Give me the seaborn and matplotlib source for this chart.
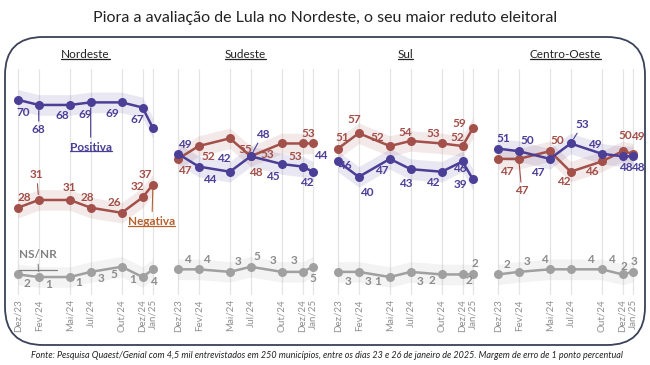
import pandas as pd
import matplotlib.pyplot as plt
import seaborn as sns
from matplotlib.patches import FancyBboxPatch
from matplotlib.lines import Line2D
from matplotlib.transforms import IdentityTransform

# Pesquisa Quaest/Genial - avaliação do governo Lula por região
meses = ['Dez/23', 'Fev/24', 'Mai/24', 'Jul/24', 'Out/24', 'Dez/24', 'Jan/25']
regioes = ['Nordeste', 'Sudeste', 'Sul', 'Centro-Oeste']
series = ['NS/NR', 'Negativa', 'Positiva']

nordeste_positiva = [70, 68, 68, 69, 69, 67, 59]
nordeste_negativa = [28, 31, 31, 28, 26, 32, 37]
nordeste_nsnr = [2, 1, 1, 3, 5, 1, 4]

sudeste_positiva = [49, 44, 42, 48, 45, 44, 42]
sudeste_negativa = [47, 52, 55, 48, 53, 53, 53]
sudeste_nsnr = [4, 4, 3, 5, 3, 3, 5]

sul_positiva = [46, 40, 47, 43, 42, 46, 39]
sul_negativa = [51, 57, 52, 54, 53, 52, 59]
sul_nsnr = [3, 3, 1, 3, 2, 2, 2]

co_positiva = [51, 50, 47, 53, 49, 48, 48]
co_negativa = [47, 47, 50, 42, 46, 50, 49]
co_nsnr = [2, 3, 4, 4, 4, 2, 3]

titulo = 'Piora a avaliação de Lula no Nordeste, o seu maior reduto eleitoral'
fonte = ('Fonte: Pesquisa Quaest/Genial com 4,5 mil entrevistados em 250 municípios, '
         'entre os dias 23 e 26 de janeiro de 2025. Margem de erro de 1 ponto percentual')

# meses transformados em posição no eixo (meses desde Dez/23)
NUM_MES = {'Jan': 1, 'Fev': 2, 'Mai': 5, 'Jul': 7, 'Out': 10, 'Dez': 12}
idx = [(2000 + int(m[4:])) * 12 + NUM_MES[m[:3]] for m in meses]
x_mes = [i - idx[0] for i in idx]

valores = {
    'Nordeste': {'Positiva': nordeste_positiva, 'Negativa': nordeste_negativa, 'NS/NR': nordeste_nsnr},
    'Sudeste': {'Positiva': sudeste_positiva, 'Negativa': sudeste_negativa, 'NS/NR': sudeste_nsnr},
    'Sul': {'Positiva': sul_positiva, 'Negativa': sul_negativa, 'NS/NR': sul_nsnr},
    'Centro-Oeste': {'Positiva': co_positiva, 'Negativa': co_negativa, 'NS/NR': co_nsnr},
}
linhas = []
for r in regioes:
    for s in series:
        for m, x, v in zip(meses, x_mes, valores[r][s]):
            linhas.append({'regiao': r, 'serie': s, 'mes': m, 'x': x, 'valor': v})
df = pd.DataFrame(linhas)

CORES = {'Positiva': '#4b3e97', 'Negativa': '#a3504a', 'NS/NR': '#a0a0a0'}
COR_ROTULO = {'Positiva': '#4b3e97', 'Negativa': '#a24f48', 'NS/NR': '#8c8c8c'}

# deslocamento dos rótulos (px: direita, baixo); True = com linha de ligação
DESLOC = {
    ('Nordeste', 'Positiva'): [(5, 13), (0, 25, True), (-8, 11), (-5, 12), (-9, 11), (-5, 12), None],
    ('Nordeste', 'Negativa'): [(6, -10), (-2, -25, True), (0, -12), (-3, -10), (-7, -10), (-5, -11), (-8, -10)],
    ('Nordeste', 'NS/NR'): [(9, 9), (10, 7), (9, 5), (10, 7), (-8, 8), (-10, 2), (0, 12)],
    ('Sudeste', 'Positiva'): [(7, -9), (11, 13), (-6, -13), (12, -22, True), (-9, 12), (18, -11), (-6, 11)],
    ('Sudeste', 'Negativa'): [(7, 12), (10, 10), (15, 11), (5, 16), (-15, 11), (-7, 13), (-5, -10)],
    ('Sudeste', 'NS/NR'): [(9, -10), (8, -10), (8, -10), (6, -10), (-9, -11), (-9, -11), (0, 12)],
    ('Sul', 'Positiva'): [(7, 4), (8, 16), (-8, 12), (-5, 14), (-9, 11), (-3, 7), (-12, 5)],
    ('Sul', 'Negativa'): [(4, -11), (-4, -14), (-13, -9), (-5, -8), (-9, -10), (-5, -9), (-14, -5)],
    ('Sul', 'NS/NR'): [(10, 10), (9, 10), (-12, 4), (9, 10), (-10, 6), (6, 6), (2, -11)],
    ('Centro-Oeste', 'Positiva'): [(5, -10), (9, -11), (-12, 14), (12, -19, True), (-7, -9), (3, 11), (5, 11)],
    ('Centro-Oeste', 'Negativa'): [(9, 13), (3, 32, True), (7, -11), (-7, 10), (-10, 10), (3, -16), (5, -17)],
    ('Centro-Oeste', 'NS/NR'): [(9, -10), (8, -10), (-5, -10), (20, -10), (10, -10), (1, -8), (1, -10)],
}

sns.set_theme(style='white')
plt.rcParams['font.family'] = ['Lato', 'DejaVu Sans']

W, H = 650, 365
fig = plt.figure(figsize=(W / 100, H / 100), dpi=100)

para_sublinhar = []

for i, regiao in enumerate(regioes):
    left = 7.6 + 160 * i
    ax = fig.add_axes([left / W, (H - 295) / H, 155.7 / W, 226 / H])
    ax.set_facecolor('none')
    sub = df[df['regiao'] == regiao]

    for s in series:
        d = sub[sub['serie'] == s]
        ax.fill_between(d['x'], d['valor'] - 4, d['valor'] + 4,
                        color=CORES[s], alpha=0.12, lw=0, zorder=1)

    sns.lineplot(data=sub, x='x', y='valor', hue='serie', hue_order=series,
                 palette=CORES, marker='o', markersize=6.5, markeredgewidth=0,
                 linewidth=1.8, legend=False, ax=ax, zorder=3)

    for s in series:
        d = sub[sub['serie'] == s]
        for (x, v), off in zip(zip(d['x'], d['valor']), DESLOC[(regiao, s)]):
            if off is None:
                continue
            seta = None
            if len(off) == 3:
                seta = dict(arrowstyle='-', color=CORES[s], lw=0.8, shrinkA=0, shrinkB=4)
            ax.annotate(str(v), xy=(x, v), xytext=(off[0], -off[1]),
                        textcoords='offset pixels', ha='center', va='center',
                        fontsize=8.5, fontweight='bold', color=COR_ROTULO[s],
                        arrowprops=seta, zorder=5)

    ax.set_xlim(-1, 14)
    ax.set_ylim(-6, 82)
    ax.set_xticks(x_mes)
    ax.set_xticklabels(meses, rotation=90, fontsize=7, color='#8f8f8f')
    ax.set_yticks([])
    ax.tick_params(axis='x', length=0, pad=3)
    ax.set_xlabel('')
    ax.set_ylabel('')
    ax.grid(axis='x', color='#e4e4e4', lw=0.9)
    ax.set_axisbelow(True)
    sns.despine(ax=ax, left=True, bottom=True)

    t = fig.text((left + 155.7 / 2) / W, 1 - 55 / H, regiao, ha='center', va='center',
                 fontsize=8.5, color='#222222')
    para_sublinhar.append((t, '#222222'))

    if regiao == 'Nordeste':
        nomes = [('Positiva', 3, (0, 45), '#4b3e97'),
                 ('Negativa', 6, (-1, 37), '#b5612e'),
                 ('NS/NR', 1, (-1, -23), '#808080')]
        for nome, k, (dx, dy), cor in nomes:
            d = sub[sub['serie'] == nome]
            xv, vv = d['x'].iloc[k], d['valor'].iloc[k]
            a = ax.annotate(nome, xy=(xv, vv), xytext=(dx, -dy), textcoords='offset pixels',
                            ha='center', va='center', fontsize=8.5, fontweight='bold',
                            color=cor, zorder=6,
                            arrowprops=dict(arrowstyle='-', color=cor, lw=0.8,
                                            shrinkA=1, shrinkB=4))
            para_sublinhar.append((a, cor))

fig.text(0.5, 1 - 18 / H, titulo, ha='center', va='center', fontsize=11.5, color='#222222')
fig.text(0.503, 1 - 356 / H, fonte, ha='center', va='center', fontsize=6.5,
         style='italic', color='#222222')

# moldura arredondada
moldura = FancyBboxPatch((5, H - 345), 640, 308, boxstyle='round,pad=0,rounding_size=38',
                         transform=IdentityTransform(), fill=False, ec='#3a4259', lw=1.3)
fig.add_artist(moldura)

# sublinhados
fig.canvas.draw()
r = fig.canvas.get_renderer()
for t, cor in para_sublinhar:
    bb = t.get_window_extent(r)
    y = bb.y0 + 1.5
    fig.add_artist(Line2D([bb.x0, bb.x1], [y, y], transform=IdentityTransform(),
                          color=cor, lw=0.9))

fig.savefig('out.png', dpi=100)
